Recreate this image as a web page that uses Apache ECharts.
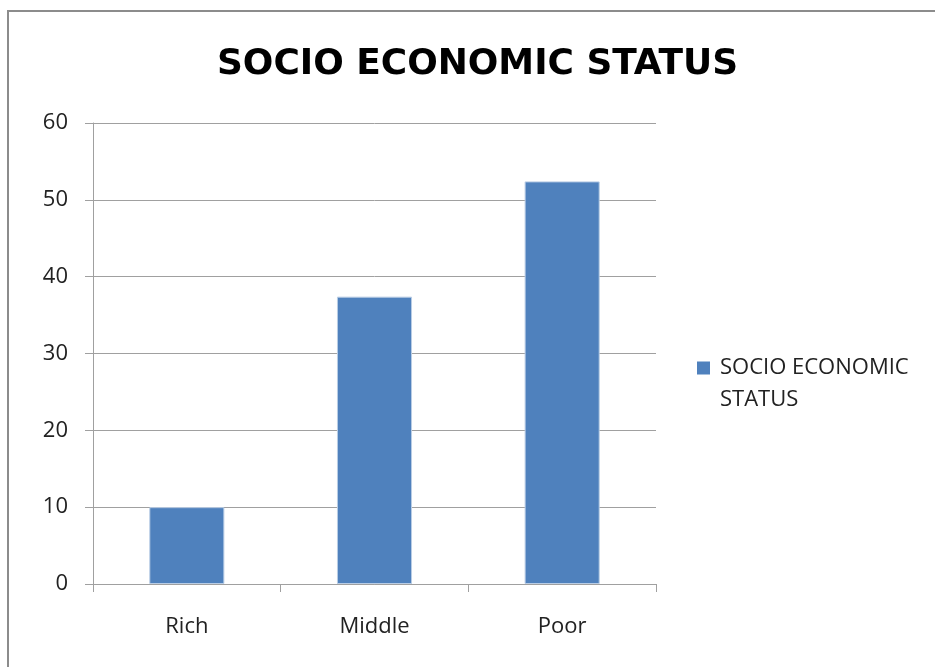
<!DOCTYPE html>
<html>
<head>
<meta charset="utf-8">
<style>
  html, body { margin: 0; padding: 0; background: #fff; }
  #frame { position: absolute; left: 7px; top: 10px; width: 940px; height: 670px;
           border-left: 2px solid #8c8c8c; border-top: 2px solid #8c8c8c; box-sizing: border-box; }
  #chart { position: absolute; left: 0; top: 0; width: 935px; height: 667px; }
</style>
<script src="https://cdn.jsdelivr.net/npm/echarts@6/dist/echarts.min.js"></script>
</head>
<body>
<div id="frame"></div>
<div id="chart"></div>
<script>
// Socio-economic status distribution
const chartTitle = 'SOCIO ECONOMIC STATUS';
const categories = ['Rich', 'Middle', 'Poor'];
const seriesName = 'SOCIO ECONOMIC STATUS';
const values = [10, 37.4, 52.4];
const yTicks = [0, 10, 20, 30, 40, 50, 60];

const font = '"Open Sans", "Noto Sans", sans-serif';
const chart = echarts.init(document.getElementById('chart'), null, { renderer: 'canvas' });

// square marker sitting at the top of a taller box so it lines up with the first legend line
const legendIcon = 'path://M0,0h13v13h-13z M0,44.99h0.01v0.01h-0.01z';

chart.setOption({
  animation: false,
  backgroundColor: 'transparent',
  graphic: [{
    type: 'text',
    x: 477.5,
    y: 65,
    scaleX: 1.11,
    style: {
      text: chartTitle,
      align: 'center',
      verticalAlign: 'middle',
      fontFamily: '"DejaVu Sans Condensed", "DejaVu Sans", sans-serif',
      fontWeight: 'bold',
      fontSize: 36,
      fill: '#000'
    }
  }],
  legend: {
    orient: 'vertical',
    left: 697,
    top: 352,
    padding: 0,
    itemWidth: 13,
    itemHeight: 45,
    itemGap: 6,
    icon: legendIcon,
    itemStyle: { borderWidth: 0 },
    data: [seriesName],
    formatter: name => name.replace('ECONOMIC ', 'ECONOMIC\n'),
    textStyle: { fontFamily: font, fontSize: 22, color: '#222', lineHeight: 32, padding: [0, 0, 0, 5] }
  },
  grid: { left: 93, right: 279, top: 123, bottom: 83, containLabel: false },
  xAxis: {
    type: 'category',
    data: categories,
    axisLine: { lineStyle: { color: '#a0a0a0', width: 1 } },
    axisTick: { show: true, length: 8, alignWithLabel: false, lineStyle: { color: '#a0a0a0' } },
    axisLabel: { fontFamily: font, fontSize: 22, color: '#222', margin: 32 }
  },
  yAxis: {
    type: 'value',
    min: yTicks[0],
    max: yTicks[yTicks.length - 1],
    interval: 10,
    axisLine: { show: true, lineStyle: { color: '#a0a0a0', width: 1 } },
    axisTick: { show: true, length: 8, lineStyle: { color: '#a0a0a0' } },
    axisLabel: { fontFamily: font, fontSize: 22, color: '#222', margin: 25 },
    splitLine: { lineStyle: { color: '#a0a0a0', width: 1 } }
  },
  series: [{
    name: seriesName,
    type: 'bar',
    data: values,
    barWidth: '40%',
    itemStyle: { color: '#4f81bd', borderColor: '#b9cde5', borderWidth: 1 }
  }]
});
</script>
</body>
</html>
